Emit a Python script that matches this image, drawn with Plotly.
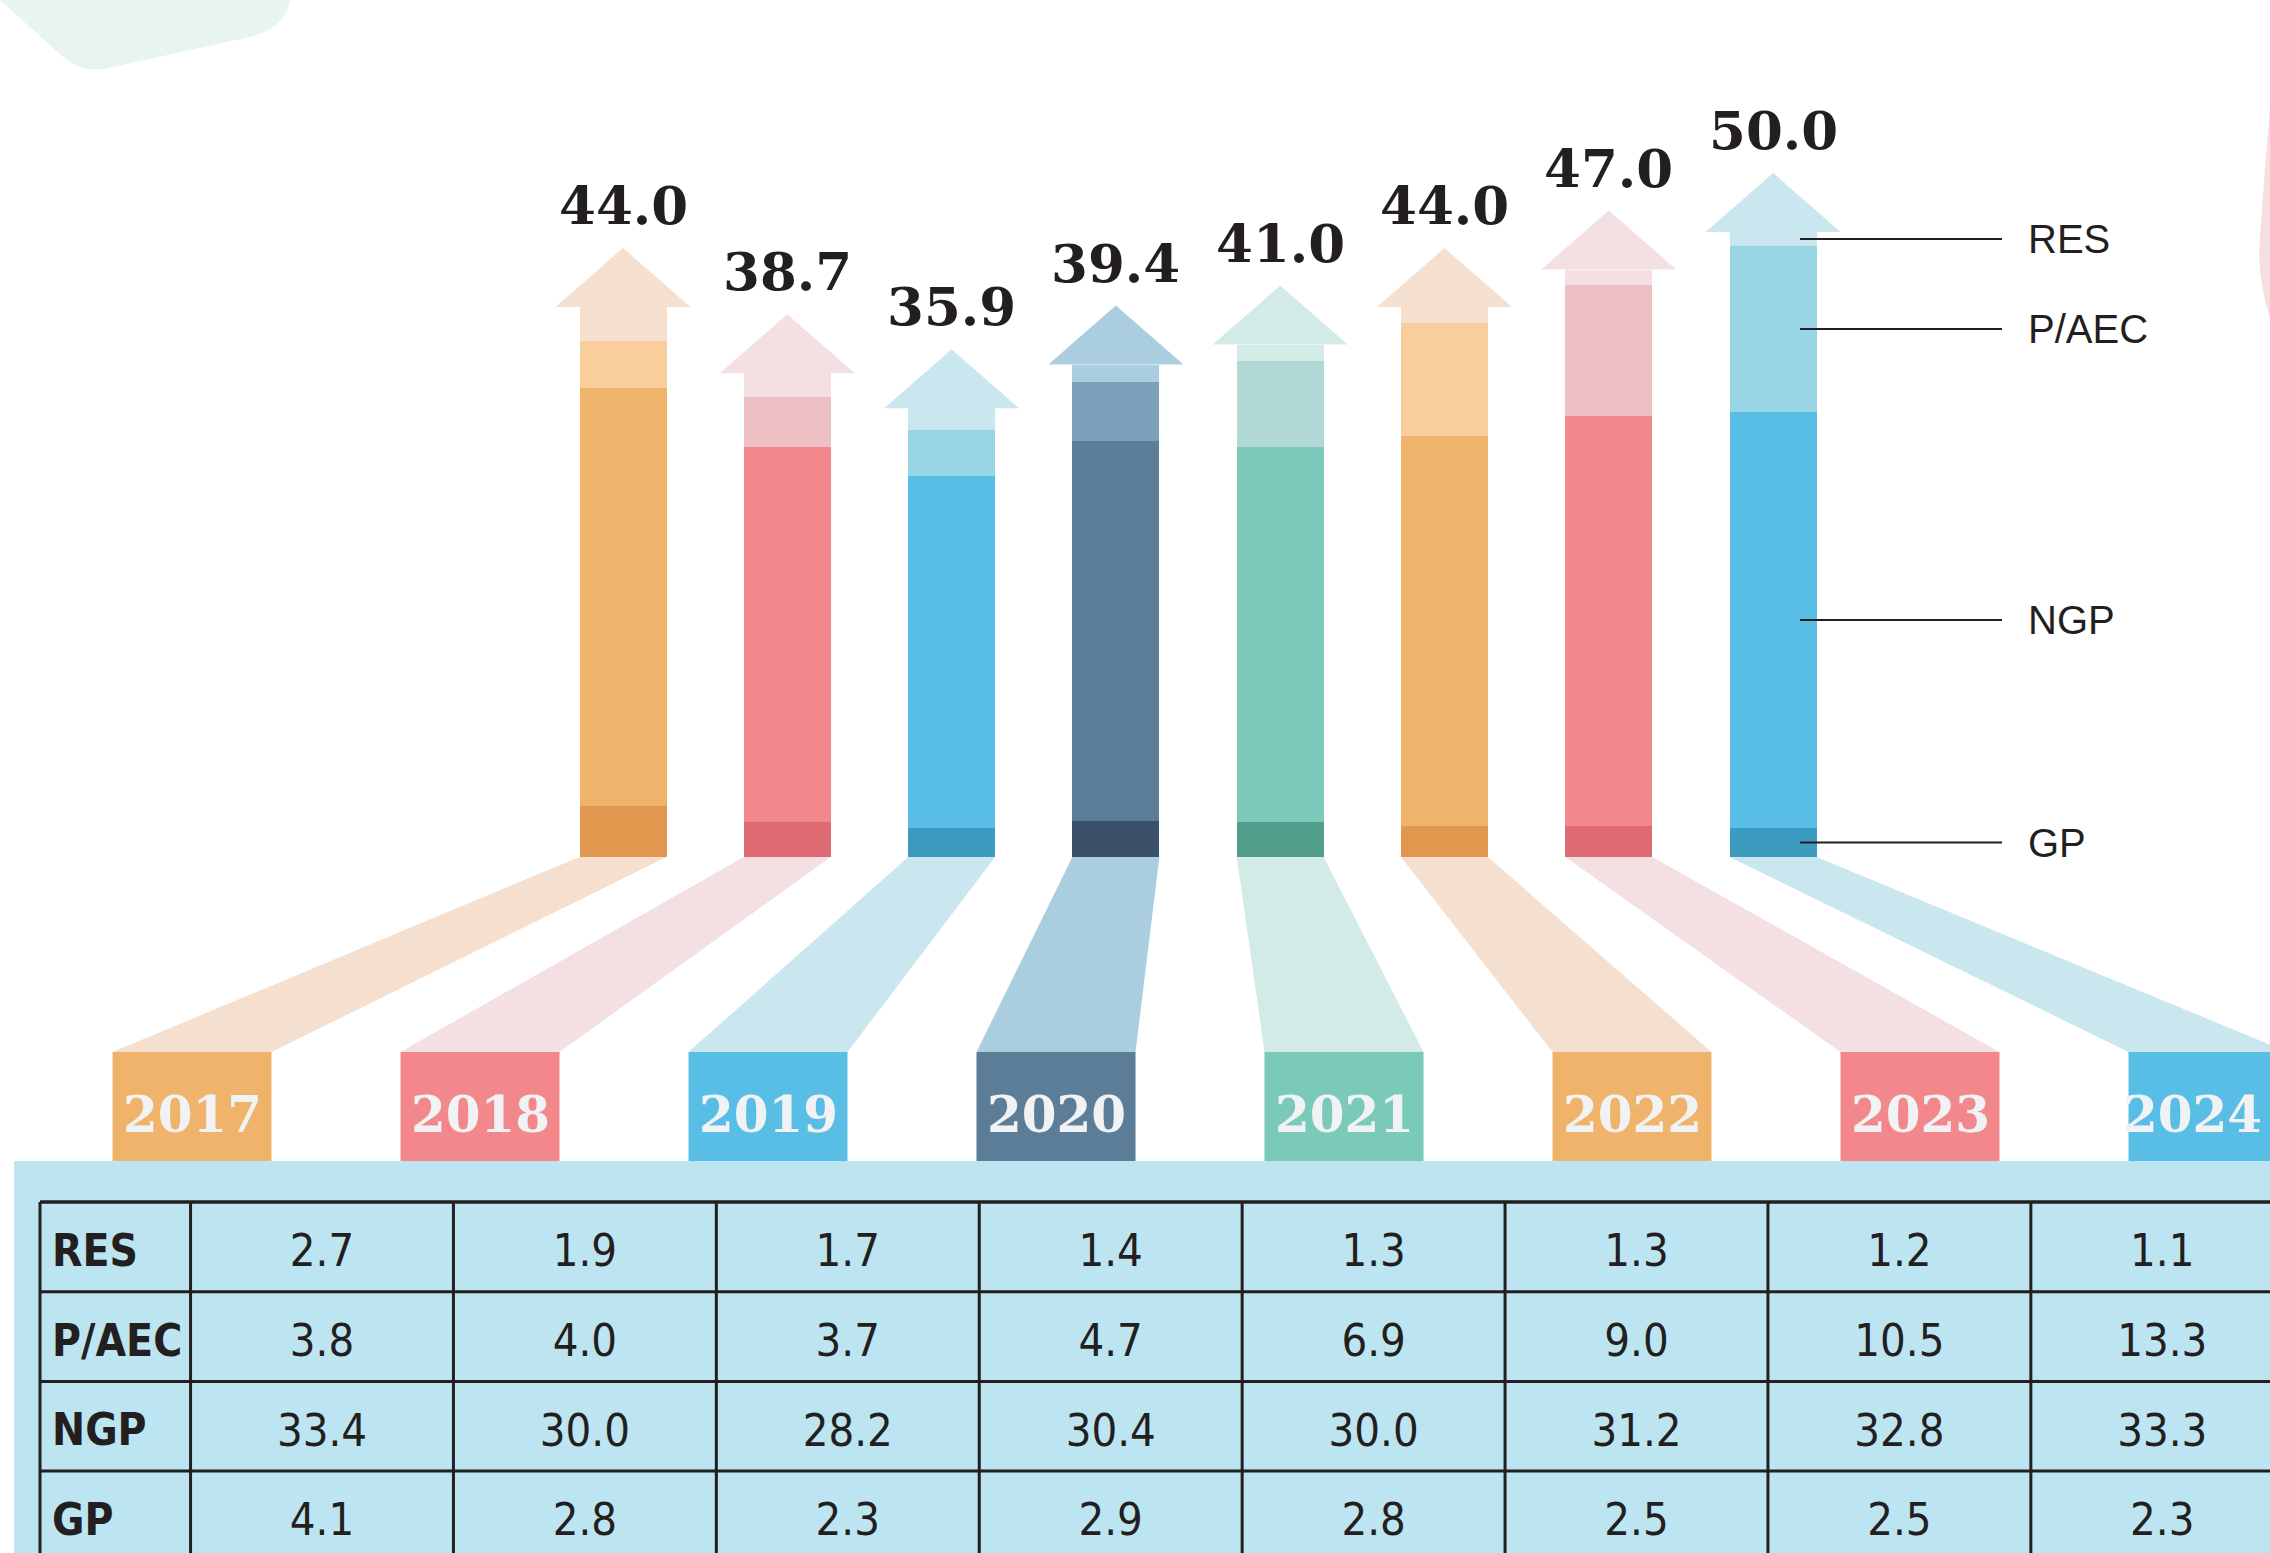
import plotly.graph_objects as go

W, H = 2270, 1553

# ---------------- data ----------------
years = ["2017", "2018", "2019", "2020", "2021", "2022", "2023", "2024"]
res = [2.7, 1.9, 1.7, 1.4, 1.3, 1.3, 1.2, 1.1]
paec = [3.8, 4.0, 3.7, 4.7, 6.9, 9.0, 10.5, 13.3]
ngp = [33.4, 30.0, 28.2, 30.4, 30.0, 31.2, 32.8, 33.3]
gp = [4.1, 2.8, 2.3, 2.9, 2.8, 2.5, 2.5, 2.3]
row_labels = ["RES", "P/AEC", "NGP", "GP"]

# ---------------- styles ----------------
palettes = {
    "orange": dict(gp="#E1974E", ngp="#F0B36B", paec="#F9CD9C", res="#F5DFCE", box="#F0B36B"),
    "red": dict(gp="#DE6B74", ngp="#F2888C", paec="#EDC0C3", res="#F4DFE3", box="#F2888C"),
    "blue": dict(gp="#3C9BBF", ngp="#59BEE6", paec="#98D5E5", res="#CAE7F0", box="#59BEE6"),
    "slate": dict(gp="#3B5069", ngp="#5C7D98", paec="#7BA1BA", res="#AACDE0", box="#5C7D98"),
    "teal": dict(gp="#509D8A", ngp="#7BCAB9", paec="#B1D8D5", res="#D3EBE6", box="#7BCAB9"),
}
year_palette = ["orange", "red", "blue", "slate", "teal", "orange", "red", "blue"]
INK = "#231F20"
TABLE_FONT = "Liberation Sans Narrow, DejaVu Sans Condensed, Arial Narrow, sans-serif"

# layout constants (pixels)
BAR_X0, BAR_DX, BASE_Y, KY = 623.0, 164.3, 857.0, 12.5
BAR_W, HEAD_W, HEAD_H = 87.0, 135.0, 59.0
BOX_X0, BOX_DX, BOX_W, BOX_TOP, BOX_BOT = 192.0, 288.0, 159.0, 1052.0, 1161.0
TAB_C0, TAB_DC, TAB_R0, TAB_DR = 322.0, 262.9, 1246.85, 89.7
TAB_LEFT, PANEL_LEFT, PANEL_TOP = 40.0, 14.0, 1161.0
TEXT_DROP = 0.09  # table text sits slightly below row centre
YEAR_SIZE = 50


def PX(x):
    return x / W


def PY(y):
    return 1 - y / H


def c_of_px(x):
    return (x - TAB_C0) / TAB_DC


def r_of_px(y):
    return (y - TAB_R0) / TAB_DR


n = len(years)
idx = list(range(n))
totals = [round(a + b + c + d, 1) for a, b, c, d in zip(gp, ngp, paec, res)]

fig = go.Figure()

seg_specs = [("GP", gp, "gp"), ("NGP", ngp, "ngp"), ("P/AEC", paec, "paec"), ("RES", res, "res")]
for name, vals, key in seg_specs:
    fig.add_trace(go.Bar(
        x=idx, y=vals, name=name, width=BAR_W / BAR_DX,
        marker=dict(color=[palettes[p][key] for p in year_palette], line=dict(width=0)),
        hoverinfo="skip", showlegend=False,
    ))

shapes = []
annotations = []

# decorations
shapes.append(dict(
    type="path", xref="paper", yref="paper", layer="below",
    path=(f"M {PX(0)},{PY(0)} L {PX(290)},{PY(0)} Q {PX(286)},{PY(28)} {PX(250)},{PY(37)} "
          f"L {PX(108)},{PY(68)} Q {PX(82)},{PY(74)} {PX(62)},{PY(56)} Z"),
    fillcolor="#E7F4F1", line=dict(width=0)))
shapes.append(dict(
    type="path", xref="paper", yref="paper", layer="below",
    path=(f"M {PX(2270)},{PY(108)} Q {PX(2262)},{PY(200)} {PX(2259)},{PY(255)} "
          f"Q {PX(2261)},{PY(292)} {PX(2270)},{PY(318)} Z"),
    fillcolor="#F6DFE3", line=dict(width=0)))

hw = HEAD_W / 2 / BAR_DX
hh = HEAD_H / KY
for i, t in enumerate(totals):
    pal = palettes[year_palette[i]]
    # arrow head
    shapes.append(dict(
        type="path", xref="x", yref="y", layer="above",
        path=f"M {i - hw},{t} L {i + hw},{t} L {i},{t + hh} Z",
        fillcolor=pal["res"], line=dict(width=0)))
    annotations.append(dict(
        x=i, y=t + hh, xref="x", yref="y", yanchor="bottom", yshift=10,
        text=f"{t:.1f}", showarrow=False,
        font=dict(family="DejaVu Serif", size=53, color=INK, weight="bold")))
    # ribbon from bar base to year box
    bl = BAR_X0 + BAR_DX * i - BAR_W / 2
    br = BAR_X0 + BAR_DX * i + BAR_W / 2
    bc = BOX_X0 + BOX_DX * i
    shapes.append(dict(
        type="path", xref="paper", yref="paper", layer="below",
        path=(f"M {PX(bl)},{PY(BASE_Y)} L {PX(br)},{PY(BASE_Y)} "
              f"L {PX(bc + BOX_W / 2)},{PY(BOX_TOP)} L {PX(bc - BOX_W / 2)},{PY(BOX_TOP)} Z"),
        fillcolor=pal["res"], line=dict(width=0)))
    # year box
    shapes.append(dict(
        type="rect", xref="paper", yref="paper", layer="below",
        x0=PX(bc - BOX_W / 2), x1=PX(bc + BOX_W / 2), y0=PY(BOX_BOT), y1=PY(BOX_TOP),
        fillcolor=pal["box"], line=dict(width=0)))
    text_c = min(bc, W - 2.85 * YEAR_SIZE / 2 - 6)
    annotations.append(dict(
        x=PX(text_c), y=PY((BOX_TOP + BOX_BOT) / 2 + 8), xref="paper", yref="paper",
        text=years[i], showarrow=False, xanchor="center", yanchor="middle",
        font=dict(family="DejaVu Serif", size=YEAR_SIZE, color="#F1F2F4", weight="bold")))

# right-side series labels, placed at the middle of each segment of the last bar
last = n - 1
bottoms = [0, gp[last], gp[last] + ngp[last], gp[last] + ngp[last] + paec[last]]
mids = [bottoms[0] + gp[last] / 2, bottoms[1] + ngp[last] / 2,
        bottoms[2] + paec[last] / 2, bottoms[3] + res[last] / 2]
for lab, ym in zip(["GP", "NGP", "P/AEC", "RES"], mids):
    shapes.append(dict(type="line", xref="paper", yref="y", layer="above",
                       x0=PX(1800), x1=PX(2002), y0=ym, y1=ym,
                       line=dict(color=INK, width=2)))
    annotations.append(dict(x=PX(2026), y=ym, xref="paper", yref="y", xanchor="left",
                            yanchor="middle", text=lab, showarrow=False,
                            font=dict(family="Liberation Sans, Arial, sans-serif", size=40, color=INK)))

# table panel
shapes.append(dict(type="rect", xref="x2", yref="y2", layer="below",
                   x0=c_of_px(PANEL_LEFT), x1=n + 1, y0=r_of_px(PANEL_TOP), y1=len(row_labels) + 1,
                   fillcolor="#BDE5F1", line=dict(width=0)))
# table grid
xl = c_of_px(TAB_LEFT)
for r in range(len(row_labels) + 1):
    shapes.append(dict(type="line", xref="x2", yref="y2", layer="above",
                       x0=xl, x1=n + 1, y0=r - 0.5, y1=r - 0.5,
                       line=dict(color=INK, width=3.5 if r == 0 else 3)))
for c in [xl] + [k - 0.5 for k in range(n + 1)]:
    shapes.append(dict(type="line", xref="x2", yref="y2", layer="above",
                       x0=c, x1=c, y0=-0.5, y1=len(row_labels) - 0.5 + 0.2,
                       line=dict(color=INK, width=3)))

table_rows = [res, paec, ngp, gp]
tx, ty, tt = [], [], []
for r, vals in enumerate(table_rows):
    for c, v in enumerate(vals):
        tx.append(c)
        ty.append(r + TEXT_DROP)
        tt.append(f"{v:.1f}")
fig.add_trace(go.Scatter(
    x=tx, y=ty, text=tt, mode="text", xaxis="x2", yaxis="y2",
    textposition="middle center", hoverinfo="skip", showlegend=False,
    textfont=dict(family=TABLE_FONT, size=45, color=INK)))
fig.add_trace(go.Scatter(
    x=[c_of_px(52)] * len(row_labels), y=[r + TEXT_DROP for r in range(len(row_labels))],
    text=row_labels, mode="text", xaxis="x2", yaxis="y2", textposition="middle right",
    hoverinfo="skip", showlegend=False,
    textfont=dict(family=TABLE_FONT, size=44, color=INK, weight="bold")))

axis_off = dict(visible=False, showgrid=False, zeroline=False, fixedrange=True)
fig.update_layout(
    width=W, height=H,
    margin=dict(l=0, r=0, t=0, b=0),
    paper_bgcolor="white", plot_bgcolor="rgba(0,0,0,0)",
    barmode="stack", bargap=0,
    showlegend=False,
    xaxis=dict(range=[-BAR_X0 / BAR_DX, (W - BAR_X0) / BAR_DX], domain=[0, 1], **axis_off),
    yaxis=dict(range=[-(H - BASE_Y) / KY, BASE_Y / KY], domain=[0, 1], **axis_off),
    xaxis2=dict(range=[c_of_px(0), c_of_px(W)], domain=[0, 1], anchor="y2", overlaying="x", **axis_off),
    yaxis2=dict(range=[r_of_px(H), r_of_px(0)], domain=[0, 1], anchor="x2", overlaying="y", **axis_off),
    shapes=shapes,
    annotations=annotations,
)

fig.write_html("out.html", config={"displayModeBar": False})

# remove the browser's default page margin so the figure sits at the top-left corner
with open("out.html", "r", encoding="utf-8") as f:
    html = f.read()
html = html.replace("<body>", '<body style="margin:0;padding:0;overflow:hidden">', 1)
with open("out.html", "w", encoding="utf-8") as f:
    f.write(html)
